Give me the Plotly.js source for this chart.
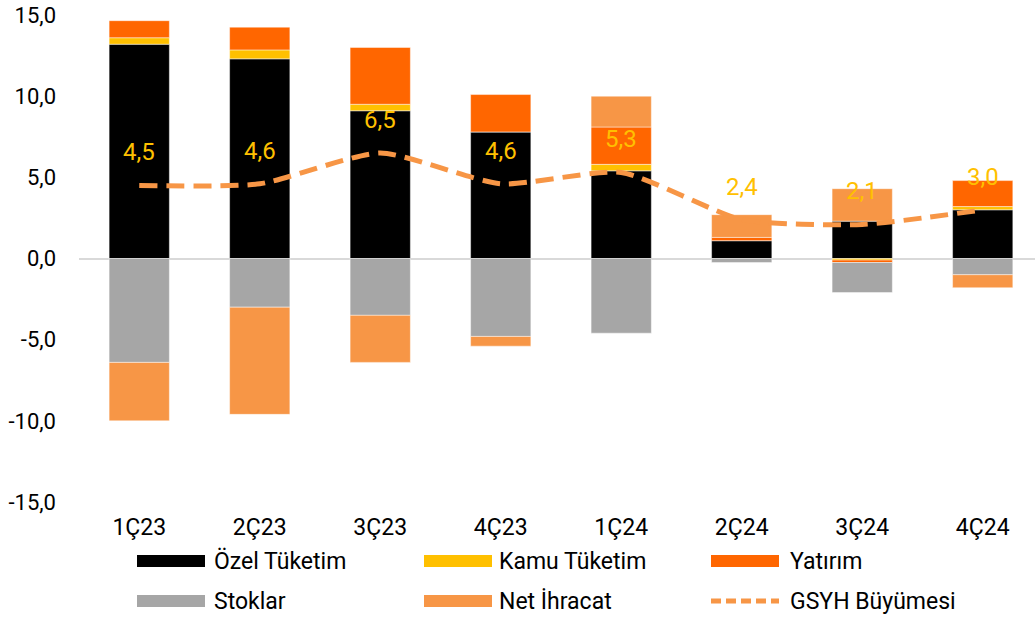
<!DOCTYPE html>
<html>
<head>
<meta charset="utf-8">
<script src="https://cdn.plot.ly/plotly-3.0.1.min.js"></script>
<style>html,body{margin:0;padding:0;background:#fff;}#chart{width:1035px;height:621px;}</style>
</head>
<body>
<div id="chart"></div>
<script>
// ---- data ----
const categories = ['1Ç23', '2Ç23', '3Ç23', '4Ç23', '1Ç24', '2Ç24', '3Ç24', '4Ç24'];
const ozelTuketim = [13.2, 12.3, 9.1, 7.8, 5.4, 1.1, 2.3, 3.0];
const kamuTuketim = [0.4, 0.55, 0.4, 0.0, 0.4, 0.0, -0.1, 0.2];
const yatirim = [1.05, 1.4, 3.5, 2.3, 2.3, 0.2, -0.15, 1.6];
const stoklar = [-6.4, -3.0, -3.5, -4.8, -4.6, -0.25, -1.85, -1.0];
const netIhracat = [-3.6, -6.6, -2.9, -0.6, 1.9, 1.4, 2.0, -0.8];
const gsyh = [4.5, 4.6, 6.5, 4.6, 5.3, 2.4, 2.1, 3.0];
const gsyhLabels = ['4,5', '4,6', '6,5', '4,6', '5,3', '2,4', '2,1', '3,0'];
const yTickVals = [-15, -10, -5, 0, 5, 10, 15];
const yTickText = ['-15,0', '-10,0', '-5,0', '0,0', '5,0', '10,0', '15,0'];

const seriesNames = ['Özel Tüketim', 'Kamu Tüketim', 'Yatırım', 'Stoklar', 'Net İhracat', 'GSYH Büyümesi'];
const colors = ['#000000', '#FFC000', '#FF6600', '#A6A6A6', '#F79646', '#F79646'];

// ---- geometry ----
const W = 1035, H = 621;
const M = {l: 79, r: 0, t: 15, b: 119};
const plotW = W - M.l - M.r, plotH = H - M.t - M.b;
const px2x = p => (p - M.l) / plotW;
const px2y = p => (H - M.b - p) / plotH;

const FONT = 'Roboto, Arial, sans-serif';

function barTrace(i, vals) {
  return {
    type: 'bar', x: categories, y: vals, name: seriesNames[i],
    marker: {color: colors[i], line: {color: 'rgba(255,255,255,0.45)', width: 1}},
    width: 0.5, showlegend: false, hoverinfo: 'skip'
  };
}

const traces = [
  barTrace(0, ozelTuketim),
  barTrace(1, kamuTuketim),
  barTrace(2, yatirim),
  barTrace(3, stoklar),
  barTrace(4, netIhracat),
  {
    type: 'scatter', mode: 'lines', x: categories, y: gsyh, name: seriesNames[5],
    line: {color: colors[5], width: 5, dash: '18px,9px', shape: 'spline', smoothing: 0.6},
    showlegend: false, hoverinfo: 'skip'
  }
];

const annotations = categories.map((c, i) => ({
  x: c, y: gsyh[i], xref: 'x', yref: 'y', text: gsyhLabels[i], showarrow: false,
  yshift: 33, font: {family: FONT, size: 24, color: '#FFC000'}
}));

// ---- manual legend ----
const shapes = [];
const legendItems = [
  {i: 0, sx: 137, tx: 212, y: 561},
  {i: 1, sx: 424, tx: 497, y: 561},
  {i: 2, sx: 711, tx: 788, y: 561},
  {i: 3, sx: 137, tx: 212, y: 601},
  {i: 4, sx: 424, tx: 497, y: 601},
  {i: 5, sx: 711, tx: 788, y: 601}
];
legendItems.forEach(it => {
  if (it.i < 5) {
    shapes.push({type: 'rect', xref: 'paper', yref: 'paper',
      x0: px2x(it.sx), x1: px2x(it.sx + 68), y0: px2y(it.y + 6), y1: px2y(it.y - 6),
      fillcolor: colors[it.i], line: {width: 0}});
  } else {
    shapes.push({type: 'line', xref: 'paper', yref: 'paper',
      x0: px2x(it.sx), x1: px2x(it.sx + 68), y0: px2y(it.y), y1: px2y(it.y),
      line: {color: colors[it.i], width: 5, dash: '10px,5px'}});
  }
  annotations.push({xref: 'paper', yref: 'paper', x: px2x(it.tx), y: px2y(it.y),
    xanchor: 'left', yanchor: 'middle', text: seriesNames[it.i], showarrow: false,
    font: {family: FONT, size: 23, color: '#000000'}});
});

const layout = {
  width: W, height: H, margin: M,
  paper_bgcolor: '#ffffff', plot_bgcolor: '#ffffff',
  barmode: 'relative', separators: ',.',
  font: {family: FONT, size: 22, color: '#000000'},
  showlegend: false,
  xaxis: {
    type: 'category', range: [-0.5, 7.434], showgrid: false, zeroline: false,
    showline: false, ticks: '', ticklabelstandoff: 9,
    tickfont: {family: FONT, size: 23, color: '#000000'}
  },
  yaxis: {
    range: [-15, 15], tickmode: 'array', tickvals: yTickVals, ticktext: yTickText,
    showgrid: false,
    zeroline: true, zerolinecolor: '#D9D9D9', zerolinewidth: 2,
    showline: false, ticks: '', ticklabelstandoff: 22,
    tickfont: {family: FONT, size: 22, color: '#000000'}
  },
  annotations: annotations,
  shapes: shapes
};

Plotly.newPlot('chart', traces, layout, {staticPlot: true, displayModeBar: false});
</script>
</body>
</html>
